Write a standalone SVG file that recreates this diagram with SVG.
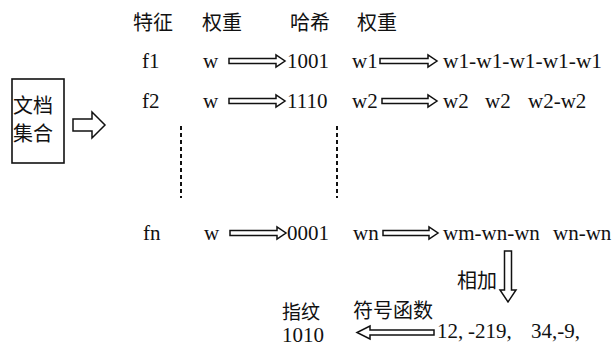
<svg xmlns="http://www.w3.org/2000/svg" width="614" height="347" viewBox="0 0 614 347">
<style>
text{font-family:"Liberation Serif","Noto Sans CJK SC",serif;font-size:21px;fill:#111}
.cjk{font-family:"Noto Sans CJK SC","Liberation Serif",sans-serif;font-size:20px}
.arr{fill:#fff;stroke:#111;stroke-width:1.5;stroke-linejoin:miter}
.dash{stroke:#111;stroke-width:2;stroke-dasharray:4 3;fill:none}
.box{fill:#fff;stroke:#111;stroke-width:1.6}
</style>
<rect width="614" height="347" fill="#fff"/>
<g id="headers">
<text class="cjk" x="133" y="30">特征</text>
<text class="cjk" x="202" y="30">权重</text>
<text class="cjk" x="290" y="30">哈希</text>
<text class="cjk" x="357" y="30">权重</text>
</g>
<g id="doc-set">
<rect class="box" x="12" y="79" width="52" height="84"/>
<text class="cjk" x="13" y="113">文档</text>
<text class="cjk" x="13" y="141">集合</text>
</g>
<g id="row-f1">
<text x="142" y="68">f1</text>
<text x="203" y="68">w</text>
<text x="287" y="68">1001</text>
<text x="352" y="68">w1</text>
<text x="443" y="68" textLength="159" lengthAdjust="spacingAndGlyphs">w1-w1-w1-w1-w1</text>
</g>
<g id="row-f2">
<text x="142" y="108">f2</text>
<text x="203" y="108">w</text>
<text x="287" y="108">1110</text>
<text x="352" y="108">w2</text>
<text y="108"><tspan x="443">w2</tspan><tspan x="485">w2</tspan><tspan x="528">w2-w2</tspan></text>
</g>
<g id="row-fn">
<text x="143" y="240">fn</text>
<text x="204" y="240">w</text>
<text x="287" y="240">0001</text>
<text x="353" y="240">wn</text>
<text y="240"><tspan x="443">wm-wn-wn</tspan><tspan x="553">wn-wn</tspan></text>
</g>
<g id="sum">
<text class="cjk" x="457" y="288">相加</text>
<text y="338"><tspan x="437">12,</tspan><tspan x="468">-219,</tspan><tspan x="531">34,-9,</tspan></text>
</g>
<g id="sign">
<text class="cjk" x="353" y="318">符号函数</text>
</g>
<g id="fingerprint">
<text class="cjk" x="282" y="319" style="font-size:19px">指纹</text>
<text x="282" y="342">1010</text>
</g>
<g id="connectors">
<path class="arr" d="M73,119 H92 V112 L105,125 L92,138 V131 H73 Z"/>
<path class="arr" d="M229,58.5 H276 V55 L285,61 L276,67 V63.5 H229 Z"/>
<path class="arr" d="M380,58.5 H428 V55 L437,61 L428,67 V63.5 H380 Z"/>
<path class="arr" d="M229,98.5 H276 V95 L285,101 L276,107 V103.5 H229 Z"/>
<path class="arr" d="M382,98.5 H428 V95 L437,101 L428,107 V103.5 H382 Z"/>
<path class="arr" d="M230,230.5 H277 V227 L286,233 L277,239 V235.5 H230 Z"/>
<path class="arr" d="M383,230.5 H429 V227 L438,233 L429,239 V235.5 H383 Z"/>
<path class="arr" d="M504.5,251 V290 H500 L508,302 L516,290 H511.5 V251 Z"/>
<path class="arr" d="M434,330 H370 V326 L357,332.5 L370,339 V335 H434 Z"/>
<line class="dash" x1="181" y1="126" x2="181" y2="198"/>
<line class="dash" x1="337" y1="126" x2="337" y2="198"/>
</g>
</svg>
